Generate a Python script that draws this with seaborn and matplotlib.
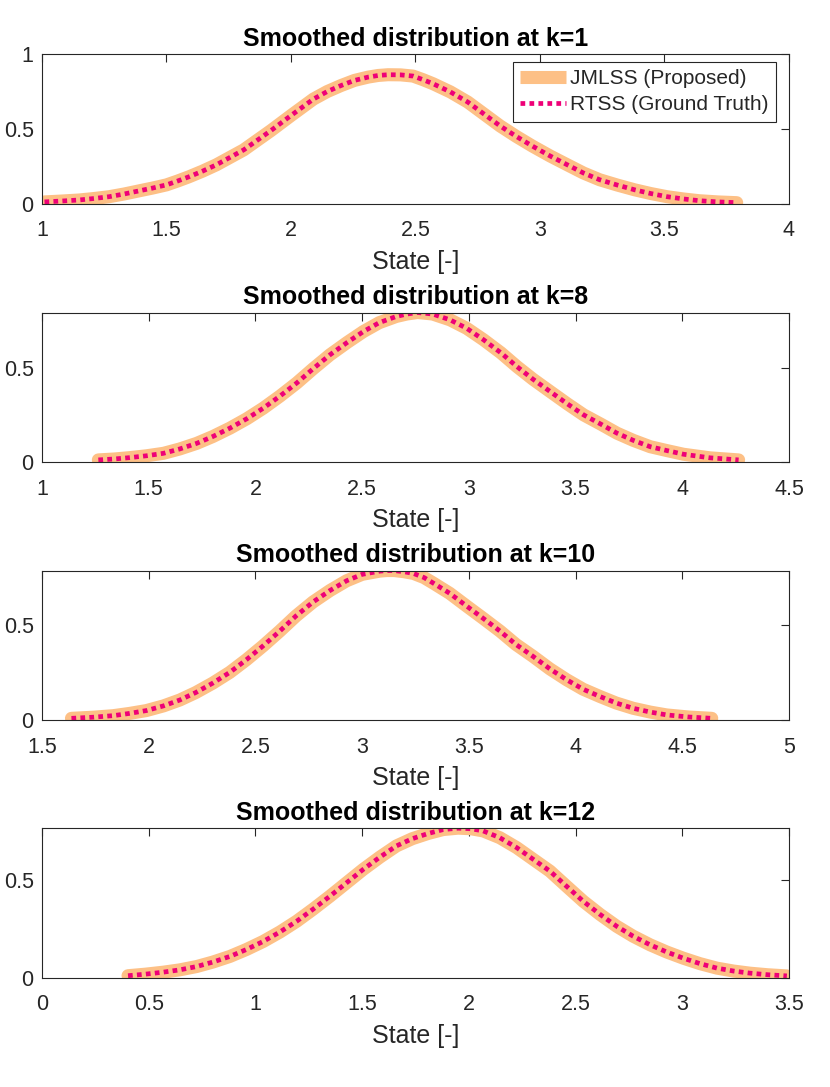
import numpy as np
import matplotlib
matplotlib.use('Agg')
import matplotlib.pyplot as plt
import seaborn as sns

# Curves (same values for both smoothers)
x_k1 = [1.01, 1.08, 1.15, 1.21, 1.27, 1.33, 1.39, 1.445, 1.50, 1.545, 1.59, 1.645, 1.70, 1.755,
        1.81, 1.865, 1.92, 1.96, 2.00, 2.045, 2.09, 2.145, 2.20, 2.255, 2.31, 2.35, 2.39,
        2.44, 2.49, 2.53, 2.57, 2.64, 2.71, 2.775, 2.84, 2.905, 2.97, 3.04, 3.11, 3.175,
        3.24, 3.31, 3.38, 3.445, 3.51, 3.575, 3.64, 3.715, 3.79]
y_k1 = [0.012, 0.018, 0.025, 0.035, 0.047, 0.065, 0.086, 0.105, 0.126, 0.152, 0.18, 0.218, 0.26, 0.31,
        0.36, 0.425, 0.49, 0.54, 0.59, 0.645, 0.70, 0.75, 0.79, 0.825, 0.847, 0.858, 0.863,
        0.862, 0.854, 0.83, 0.803, 0.748, 0.68, 0.60, 0.52, 0.45, 0.385, 0.32, 0.26, 0.205,
        0.16, 0.125, 0.093, 0.068, 0.047, 0.032, 0.02, 0.012, 0.007]

x_k8 = [1.264, 1.34, 1.41, 1.49, 1.569, 1.645, 1.725, 1.80, 1.881, 1.96, 2.037, 2.115, 2.194,
        2.27, 2.35, 2.43, 2.506, 2.58, 2.66, 2.71, 2.76, 2.83, 2.912, 2.99, 3.069, 3.15,
        3.225, 3.30, 3.381, 3.46, 3.538, 3.62, 3.694, 3.77, 3.85, 3.93, 4.006, 4.13, 4.264]
y_k8 = [0.011, 0.016, 0.023, 0.033, 0.046, 0.069, 0.099, 0.135, 0.18, 0.23, 0.286, 0.35, 0.42,
        0.495, 0.57, 0.635, 0.693, 0.74, 0.773, 0.786, 0.794, 0.786, 0.755, 0.71, 0.649, 0.58,
        0.507, 0.44, 0.374, 0.31, 0.25, 0.20, 0.153, 0.115, 0.081, 0.06, 0.041, 0.022, 0.011]

x_k10 = [1.638, 1.74, 1.833, 1.91, 1.989, 2.07, 2.146, 2.22, 2.30, 2.38, 2.458, 2.536, 2.614,
         2.69, 2.77, 2.85, 2.927, 3.00, 3.083, 3.115, 3.15, 3.195, 3.24, 3.29, 3.333, 3.41,
         3.49, 3.57, 3.646, 3.72, 3.80, 3.88, 3.958, 4.035, 4.115, 4.19, 4.27, 4.35, 4.427,
         4.53, 4.638]
y_k10 = [0.009, 0.015, 0.023, 0.035, 0.05, 0.075, 0.106, 0.145, 0.195, 0.252, 0.319, 0.392, 0.47,
         0.55, 0.624, 0.685, 0.736, 0.77, 0.787, 0.79, 0.79, 0.784, 0.775, 0.753, 0.724, 0.67,
         0.602, 0.535, 0.47, 0.40, 0.337, 0.27, 0.213, 0.163, 0.124, 0.09, 0.062, 0.042, 0.027,
         0.016, 0.009]

x_k12 = [0.403, 0.485, 0.567, 0.645, 0.724, 0.80, 0.88, 0.958, 1.036, 1.115, 1.193, 1.27,
         1.349, 1.427, 1.505, 1.583, 1.661, 1.735, 1.81, 1.88, 1.95, 2.01, 2.067, 2.145,
         2.224, 2.30, 2.38, 2.458, 2.536, 2.615, 2.693, 2.77, 2.849, 2.927, 3.005, 3.083,
         3.162, 3.24, 3.318, 3.40, 3.49]
y_k12 = [0.01, 0.018, 0.028, 0.04, 0.057, 0.08, 0.109, 0.145, 0.186, 0.235, 0.29, 0.352,
         0.419, 0.488, 0.557, 0.62, 0.678, 0.715, 0.742, 0.762, 0.769, 0.766, 0.755, 0.72,
         0.669, 0.61, 0.548, 0.47, 0.393, 0.325, 0.264, 0.213, 0.169, 0.132, 0.10, 0.072,
         0.049, 0.034, 0.023, 0.015, 0.009]

steps = [1, 8, 10, 12]
xs = [x_k1, x_k8, x_k10, x_k12]
ys = [y_k1, y_k8, y_k10, y_k12]
xlims = [(1, 4), (1, 4.5), (1.5, 5), (0, 3.5)]
xticks = [np.arange(1, 4.01, 0.5), np.arange(1, 4.51, 0.5), np.arange(1.5, 5.01, 0.5), np.arange(0, 3.51, 0.5)]
ytops = [1, max(y_k8), max(y_k10), max(y_k12)]

sns.set_style('white')
plt.rcParams['font.family'] = ['Liberation Sans', 'DejaVu Sans']

c_jmlss = '#FDC086'
c_rtss = '#EE0077'
ink = '#262626'

fig = plt.figure(figsize=(8.3, 10.87), dpi=100)
bottoms = [0.8126, 0.575, 0.3376, 0.1006]

for i in range(4):
    ax = fig.add_axes([0.0506, bottoms[i], 0.9, 0.1375])
    sns.lineplot(x=xs[i], y=ys[i], ax=ax, color=c_jmlss, linewidth=9.4,
                 solid_capstyle='round', solid_joinstyle='round', sort=False,
                 estimator=None, legend=False, label='JMLSS (Proposed)')
    sns.lineplot(x=xs[i], y=ys[i], ax=ax, color=c_rtss, linewidth=3.4,
                 linestyle=(0, (1, 0.9)), dash_capstyle='butt', sort=False,
                 estimator=None, legend=False, label='RTSS (Ground Truth)')
    ax.set_xlim(*xlims[i])
    ax.set_ylim(0, ytops[i])
    ax.set_xticks(xticks[i])
    ax.set_xticklabels([f'{t:g}' for t in xticks[i]])
    yt = [0, 0.5, 1] if i == 0 else [0, 0.5]
    ax.set_yticks(yt)
    ax.set_yticklabels([f'{t:g}' for t in yt])
    ax.tick_params(direction='in', length=5.5, width=0.8, colors=ink, labelsize=15.5,
                   top=True, right=True)
    ax.tick_params(axis='x', pad=12)
    ax.tick_params(axis='y', pad=6)
    for s in ax.spines.values():
        s.set_color(ink)
        s.set_linewidth(0.8)
    ax.set_xlabel('State [-]', fontsize=18, color=ink, labelpad=6)
    ax.set_ylabel('')
    ax.set_title(f'Smoothed distribution at k={steps[i]}', fontsize=18,
                 fontweight='bold', color='black', pad=6)
    if i == 0:
        h = ax.get_lines()[:2]
        leg = ax.legend(h, ['JMLSS (Proposed)', 'RTSS (Ground Truth)'], loc='upper right',
                        bbox_to_anchor=(0.9826, 0.949), borderaxespad=0, fontsize=15,
                        fancybox=False, framealpha=1, edgecolor=ink, handlelength=2.2,
                        handletextpad=0.2, labelspacing=0.35, borderpad=0.35)
        leg.get_frame().set_linewidth(0.8)
        leg.get_lines()[0].set_solid_capstyle('butt')

fig.savefig('out.png', dpi=100)
